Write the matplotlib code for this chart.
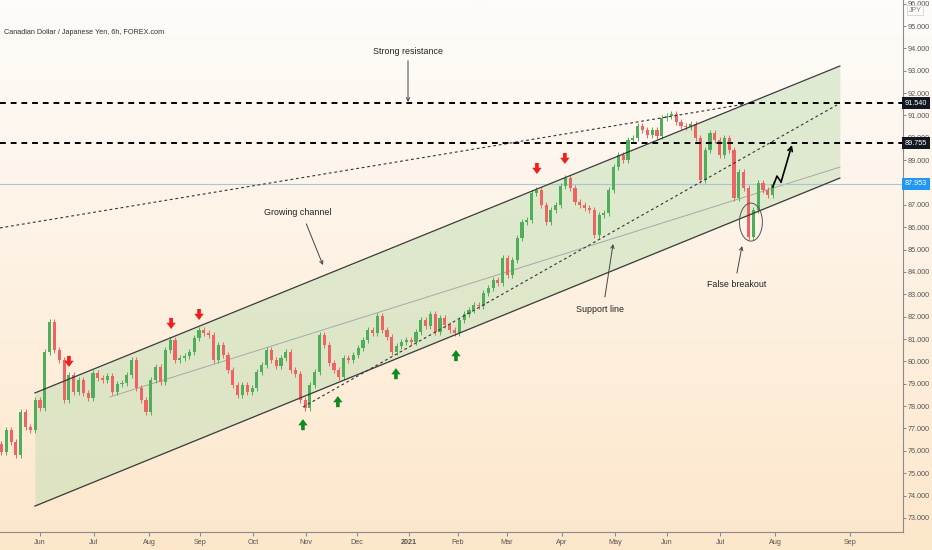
import numpy as np
import matplotlib.pyplot as plt
from matplotlib.patches import Ellipse

# ---------------- data ----------------
# x = trading-day index, 0 = 1 Jun 2020; one candle every 2 trading days
FIRST_DAY = -16
DAY_STEP = 2
FIRST_OPEN = 76.30
CLOSE = [
    75.95, 76.93, 76.40, 75.81, 77.74, 77.07, 76.93, 78.27, 77.92, 80.42,
    81.76, 80.51, 80.06, 78.27, 79.39, 78.63, 79.17, 78.59, 78.36, 79.48,
    79.26, 79.17, 79.35, 78.63, 78.99, 79.03, 79.39, 80.06, 78.81, 78.27,
    77.74, 79.17, 79.75, 79.08, 80.51, 80.96, 80.06, 80.15, 80.24, 80.42,
    81.05, 81.40, 81.27, 81.18, 80.06, 80.73, 80.29, 79.62, 78.95, 78.50,
    78.95, 78.63, 78.81, 79.53, 79.84, 80.51, 80.06, 79.79, 80.15, 80.42,
    79.62, 79.44, 78.27, 77.92, 78.95, 79.53, 81.18, 80.73, 79.93, 79.62,
    79.30, 80.15, 80.06, 80.29, 80.60, 80.96, 81.40, 81.27, 82.03, 81.40,
    81.09, 80.42, 80.69, 80.87, 80.96, 80.87, 81.32, 81.85, 81.58, 82.12,
    81.32, 81.94, 81.63, 81.40, 81.27, 81.85, 82.12, 82.30, 82.52, 82.48,
    83.06, 83.28, 83.64, 83.50, 84.62, 83.86, 84.54, 85.52, 86.23, 86.32,
    87.53, 87.67, 86.99, 86.23, 86.77, 86.99, 87.84, 88.20, 87.76, 87.13,
    86.99, 86.86, 86.77, 85.65, 86.55, 86.64, 87.67, 88.69, 89.23, 89.01,
    89.90, 89.99, 90.53, 90.35, 90.13, 90.35, 90.08, 90.89, 90.98, 91.07,
    90.71, 90.53, 90.48, 90.62, 89.99, 88.11, 89.46, 90.22, 89.90, 89.23,
    89.99, 89.46, 87.31, 88.47, 87.76, 85.56, 86.77, 87.98, 87.67, 87.44,
    87.953,
]
LAST_PRICE = 87.953
RESISTANCE = [91.540, 89.755]

MONTH_POS = [0, 22.4, 45.2, 66.4, 88.4, 110.4, 131.5, 153.1, 173.4, 193.8,
             216.6, 238.6, 260.2, 282.2, 305.0, 336.1]
MONTH_LBL = ['Jun', 'Jul', 'Aug', 'Sep', 'Oct', 'Nov', 'Dec', '2021', 'Feb',
             'Mar', 'Apr', 'May', 'Jun', 'Jul', 'Aug', 'Sep']
PRICE_TICKS = list(range(73, 97))

# drawing tools (day, price)
CH_UP = [(-2.1, 78.59), (331.9, 93.21)]
CH_LO = [(-2.1, 73.53), (331.9, 88.20)]
MID_LINE = [(29.0, 78.41), (331.9, 88.69)]
SUPPORT_LINE = [(109.1, 77.96), (330.7, 91.47)]
LONG_LINE = [(-16.6, 85.97), (292.5, 91.51)]
PROJECTION = [(304.1, 87.80), (305.8, 88.29), (307.5, 88.02), (312.0, 89.68)]
RED_TIPS = [(12.0, 79.75), (54.4, 81.45), (66.0, 81.85), (206.2, 88.38), (217.8, 88.83)]
GREEN_TIPS = [(109.1, 77.42), (123.6, 78.45), (147.7, 79.70), (172.6, 80.51)]

XLIM = (-16.6, 358.1)
YLIM = (72.37, 96.163)
plt.rcParams['font.family'] = ['Liberation Sans', 'DejaVu Sans']

fig = plt.figure(figsize=(9.32, 5.5), dpi=100)

# background gradient (white -> peach)
bg = fig.add_axes([0, 0, 1, 1], zorder=-5)
top = np.array([254, 252, 250]) / 255
bot = np.array([253, 231, 203]) / 255
g = np.linspace(0, 1, 256)[:, None]
grad = top[None, :] * (1 - g) + bot[None, :] * g
bg.imshow(grad[:, None, :], aspect='auto', extent=[0, 1, 0, 1])
bg.axis('off')

ax = fig.add_axes([0, 18 / 550, 903 / 932, 532 / 550])
ax.patch.set_alpha(0)
ax.set_xlim(*XLIM)
ax.set_ylim(*YLIM)

# ---- channel ----
xs = [CH_UP[0][0], CH_UP[1][0]]
ax.fill_between(xs, [CH_LO[0][1], CH_LO[1][1]], [CH_UP[0][1], CH_UP[1][1]],
                color='#c6e0b8', alpha=0.55, lw=0, zorder=1)
for ln in (CH_UP, CH_LO):
    ax.plot(*zip(*ln), color='#3a3a3a', lw=0.9, zorder=4)
ax.plot(*zip(*MID_LINE), color='#a8a8a8', lw=0.7, zorder=2)
ax.plot(*zip(*SUPPORT_LINE), color='#333333', lw=0.8, ls=(0, (2.5, 2.5)), zorder=4)
ax.plot(*zip(*LONG_LINE), color='#333333', lw=0.8, ls=(0, (2.5, 2.5)), zorder=4)

# ---- horizontal levels ----
for lvl in RESISTANCE:
    ax.axhline(lvl, color='black', lw=1.4, ls=(0, (3, 2.5)), zorder=5)
ax.axhline(LAST_PRICE, color='#a9c4d8', lw=0.8, zorder=2)

# ---- candles ----
close = np.array(CLOSE)
opens = np.concatenate([[FIRST_OPEN], close[:-1]])
x = FIRST_DAY + DAY_STEP * np.arange(len(close))
up = close >= opens
cols = np.where(up, '#4fae5a', '#ee6464')
wick = 0.12
hi = np.maximum(opens, close) + wick
lo = np.minimum(opens, close) - wick
ax.vlines(x, lo, hi, colors=cols, lw=0.7, zorder=3)
ax.bar(x, close - opens, bottom=opens, width=1.3, color=cols, lw=0, zorder=3)

# ---- projection arrow ----
px, py = zip(*PROJECTION)
ax.plot(px[:-1], py[:-1], color='black', lw=1.2, zorder=6)
ax.annotate('', xy=PROJECTION[-1], xytext=PROJECTION[-2],
            arrowprops=dict(arrowstyle='->', color='black', lw=1.2,
                            shrinkA=0, shrinkB=0, mutation_scale=8), zorder=6)

# ---- signal arrows ----
sty = 'simple,head_width=0.9,head_length=0.6,tail_width=0.35'
for tx, ty in RED_TIPS:
    ax.annotate('', xy=(tx, ty), xytext=(0, 8), textcoords='offset points',
                arrowprops=dict(arrowstyle=sty, color='#f01f1f', lw=0,
                                shrinkA=0, shrinkB=0, mutation_scale=7.5))
for tx, ty in GREEN_TIPS:
    ax.annotate('', xy=(tx, ty), xytext=(0, -8), textcoords='offset points',
                arrowprops=dict(arrowstyle=sty, color='#0f8a1f', lw=0,
                                shrinkA=0, shrinkB=0, mutation_scale=7.5))

# ---- false breakout ellipse ----
ax.add_patch(Ellipse((295.0, 86.23), 9.5, 1.70, fill=False, ec='#555555', lw=0.7, zorder=6))

# ---- text notes ----
notes = [
    ('Strong resistance', (152.7, 93.88), (152.7, 93.45), (152.7, 91.60)),
    ('Growing channel', (107.1, 86.68), (110.5, 86.15), (117.4, 84.31)),
    ('Support line', (232.4, 82.30), (234.4, 82.88), (237.8, 85.25)),
    ('False breakout', (289.2, 83.46), (289.2, 83.95), (291.3, 85.16)),
]
for txt, pos, a0, a1 in notes:
    ax.text(*pos, txt, fontsize=6.4, color='#222222', ha='center', va='center', zorder=7)
    ax.annotate('', xy=a1, xytext=a0,
                arrowprops=dict(arrowstyle='->', color='#444444', lw=0.7,
                                shrinkA=0, shrinkB=0, mutation_scale=6))

# ---- axes style ----
for s in ('left', 'top'):
    ax.spines[s].set_visible(False)
ax.spines['right'].set_color('#8a8a8a')
ax.spines['bottom'].set_color('#8a8a8a')
ax.spines['right'].set_linewidth(0.8)
ax.spines['bottom'].set_linewidth(0.8)
ax.yaxis.tick_right()
ax.set_yticks(PRICE_TICKS)
# 88.000 sits under the last-price tag, as on the original
ax.set_yticklabels(['' if p == 88 else f'{p:.3f}' for p in PRICE_TICKS])
ax.set_xticks(MONTH_POS)
ax.set_xticklabels(MONTH_LBL)
for lb in ax.get_xticklabels():
    if lb.get_text() == '2021':
        lb.set_fontweight('bold')
ax.tick_params(axis='y', length=2, width=0.6, color='#777777', labelsize=5.2,
               labelcolor='#555555', pad=1.2)
ax.tick_params(axis='x', length=3, width=0.6, color='#777777', labelsize=5.2,
               labelcolor='#555555', pad=2)

# price labels on the axis
ytr = ax.get_yaxis_transform()
for lvl in RESISTANCE:
    ax.text(1.002, lvl, f'{lvl:.3f}', transform=ytr, fontsize=5.2, color='white',
            va='center', ha='left', zorder=10, clip_on=False,
            bbox=dict(boxstyle='square,pad=0.35', fc='#131722', ec='none'))
ax.text(1.002, LAST_PRICE, f'{LAST_PRICE:.3f}', transform=ytr, fontsize=5.2,
        color='white', va='center', ha='left', zorder=10, clip_on=False,
        bbox=dict(boxstyle='square,pad=0.35', fc='#2196f3', ec='none'))
fig.text(915 / 932, 1 - 10 / 550, 'JPY', fontsize=5, color='#777777', ha='center',
         va='center', bbox=dict(boxstyle='square,pad=0.2', fc='#fefcfa', ec='#cccccc', lw=0.5))

fig.text(4 / 932, 1 - 33 / 550, 'Canadian Dollar / Japanese Yen, 6h, FOREX.com',
         fontsize=5.2, color='#333333', ha='left', va='center')

fig.savefig('out.png', dpi=100)
